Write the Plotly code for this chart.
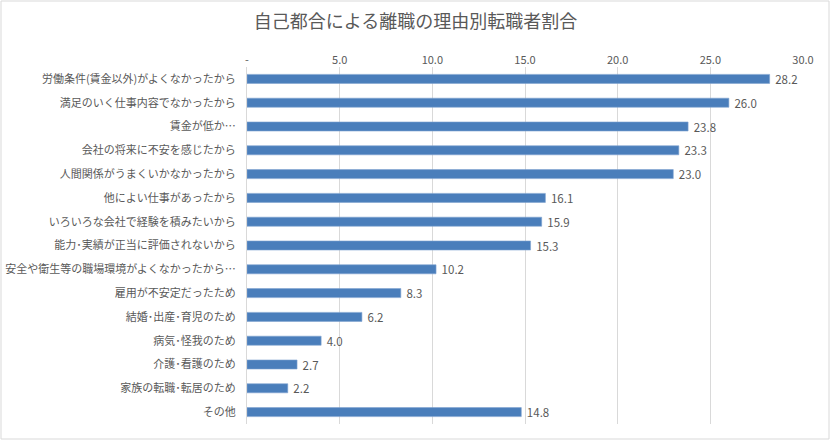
import plotly.graph_objects as go

categories = [
    "労働条件(賃金以外)がよくなかったから",
    "満足のいく仕事内容でなかったから",
    "賃金が低か…",
    "会社の将来に不安を感じたから",
    "人間関係がうまくいかなかったから",
    "他によい仕事があったから",
    "いろいろな会社で経験を積みたいから",
    "能力･実績が正当に評価されないから",
    "安全や衛生等の職場環境がよくなかったから…",
    "雇用が不安定だったため",
    "結婚･出産･育児のため",
    "病気･怪我のため",
    "介護･看護のため",
    "家族の転職･転居のため",
    "その他",
]
values = [28.2, 26.0, 23.8, 23.3, 23.0, 16.1, 15.9, 15.3, 10.2, 8.3, 6.2, 4.0, 2.7, 2.2, 14.8]
tick_vals = [0, 5, 10, 15, 20, 25, 30]
tick_text = ["-", "5.0", "10.0", "15.0", "20.0", "25.0", "30.0"]
title = "自己都合による離職の理由別転職者割合"

FONT = "Noto Sans CJK JP, Noto Sans, sans-serif"
GRAY = "#595959"

fig = go.Figure(go.Bar(
    y=categories, x=values, orientation="h",
    marker=dict(color="#4A7EBB", line=dict(width=0.6, color="#7FA3D0")),
    width=0.38,
    text=[f" {v:.1f}" for v in values], textposition="outside",
    constraintext="none",
    textfont=dict(size=11.5, color=GRAY, family=FONT),
    cliponaxis=False,
))

W, H = 831, 441
ml, mr, mt, mb = 247, 28, 67, 17
pw, ph = W - ml - mr, H - mt - mb

fig.update_layout(
    width=W, height=H,
    margin=dict(l=ml, r=mr, t=mt, b=mb, autoexpand=False),
    paper_bgcolor="white", plot_bgcolor="white",
    font=dict(family=FONT, color=GRAY, size=11),
    title=dict(text=title, x=0.5, xanchor="center", y=1 - 22 / H, yanchor="middle",
               font=dict(size=18, color=GRAY, family=FONT)),
    showlegend=False,
    bargap=0.6,
    xaxis=dict(side="top", range=[0, 30], tickvals=tick_vals, ticktext=tick_text,
               showgrid=True, gridcolor="#D9D9D9", gridwidth=1, zeroline=False,
               showline=False, ticks="", automargin=False, tickfont=dict(size=11, color=GRAY)),
    yaxis=dict(autorange="reversed", showgrid=False, showline=True, linecolor="#D9D9D9",
               linewidth=1, ticks="", automargin=False, ticklabelstandoff=8,
               tickfont=dict(size=11, color=GRAY)),
    shapes=[dict(type="rect", xref="paper", yref="paper",
                 x0=-(ml - 1) / pw, x1=1 + (mr - 2) / pw,
                 y0=-(mb - 2) / ph, y1=1 + (mt - 1) / ph,
                 line=dict(color="#D9D9D9", width=1), fillcolor="rgba(0,0,0,0)", layer="below")],
)

fig.write_html("out.html", config={"displayModeBar": False},
               post_script="document.body.style.margin='0';")
